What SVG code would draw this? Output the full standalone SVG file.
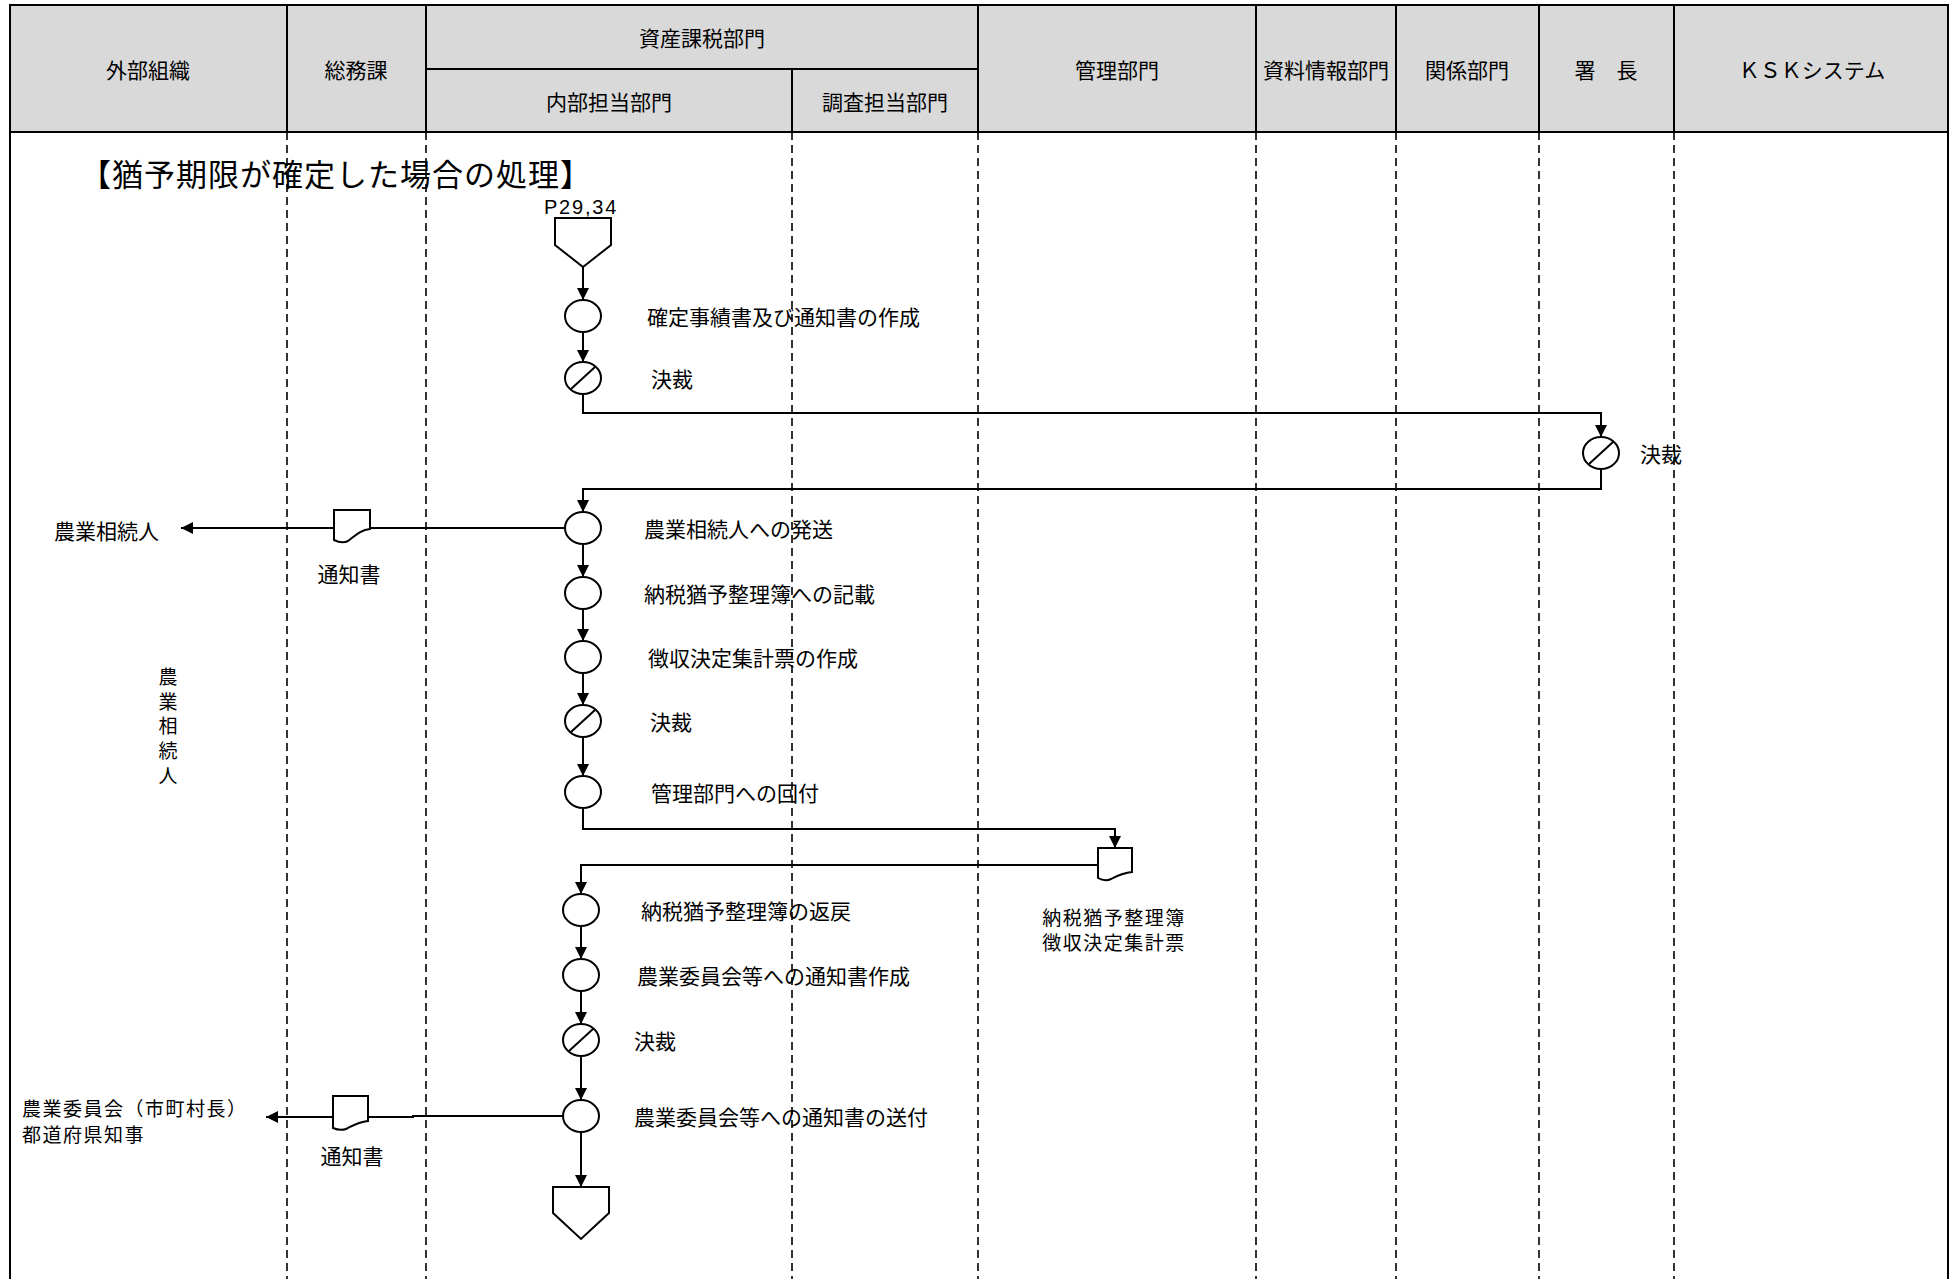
<svg xmlns="http://www.w3.org/2000/svg" width="1959" height="1279" viewBox="0 0 1959 1279">
<defs>
<style>
text{font-family:"Noto Sans CJK JP","Noto Sans CJK SC",sans-serif;fill:#000;dominant-baseline:central}
.h{font-size:21px;text-anchor:middle}
.t{font-size:21px}
.m{font-size:21px;text-anchor:middle}
.s{font-size:19px;letter-spacing:1.5px}
.sm{font-size:19px;letter-spacing:1.5px;text-anchor:middle}
.v{font-size:19px;text-anchor:middle}
.ttl{font-size:31px;letter-spacing:1px}
.p{font-family:"Liberation Sans",Arial,sans-serif;font-size:20px;letter-spacing:1.8px;text-anchor:middle;dominant-baseline:alphabetic}
.sol{stroke:#000;stroke-width:2;fill:none}
.dash{stroke:#000;stroke-width:1.6;stroke-dasharray:8 5;fill:none}
.shape{stroke:#000;stroke-width:2;fill:#fff}
.con{stroke:#000;stroke-width:2;fill:none}
.arr{marker-end:url(#ah)}
</style>
<marker id="ah" markerUnits="userSpaceOnUse" markerWidth="12" markerHeight="12" refX="12" refY="6" orient="auto">
<path d="M0,0 L12,6 L0,12 Z" fill="#000"/>
</marker>
</defs>
<rect x="0" y="0" width="1959" height="1279" fill="#fff"/>
<g id="header">
<rect x="10" y="5" width="1938" height="127" fill="#d9d9d9"/>
<path class="sol" d="M287,5V132M426,5V132M978,5V132M1256,5V132M1396,5V132M1539,5V132M1674,5V132M792,69V132M426,69H978"/>
<path class="sol" stroke-width="2.5" d="M10,132H1948"/>
<path class="sol" stroke-width="3.5" d="M9,5H1949"/>
<text class="h" x="148" y="69">外部組織</text>
<text class="h" x="356" y="69">総務課</text>
<text class="h" x="702" y="37">資産課税部門</text>
<text class="h" x="609" y="101">内部担当部門</text>
<text class="h" x="885" y="101">調査担当部門</text>
<text class="h" x="1117" y="69">管理部門</text>
<text class="h" x="1326" y="69">資料情報部門</text>
<text class="h" x="1467" y="69">関係部門</text>
<text class="h" x="1606" y="69">署　長</text>
<text class="h" x="1812" y="69">ＫＳＫシステム</text>
</g>
<g id="frame">
<path class="sol" stroke-width="2.5" d="M10,5V1279M1948,5V1279"/>
<path class="dash" d="M287,132V1279M426,132V1279M792,132V1279M978,132V1279M1256,132V1279M1396,132V1279M1539,132V1279M1674,132V1279"/>
</g>
<text id="title" class="ttl" x="80" y="172">【猶予期限が確定した場合の処理】</text>
<g id="connectors">
<path class="con arr" d="M583,267V300"/>
<path class="con arr" d="M583,332V362"/>
<path class="con arr" d="M583,394V413H1601V437"/>
<path class="con arr" d="M1601,469V489H583V512"/>
<path class="con" d="M565,528H370"/>
<path class="con arr" d="M334,528H181"/>
<path class="con arr" d="M583,544V577"/>
<path class="con arr" d="M583,609V641"/>
<path class="con arr" d="M583,673V705"/>
<path class="con arr" d="M583,737V776"/>
<path class="con arr" d="M583,808V829H1115V848"/>
<path class="con arr" d="M1098,865H581V894"/>
<path class="con arr" d="M581,926V959"/>
<path class="con arr" d="M581,991V1024"/>
<path class="con arr" d="M581,1056V1100"/>
<path class="con" d="M563,1116H413V1117H368"/>
<path class="con arr" d="M333,1117H266"/>
<path class="con arr" d="M581,1132V1187"/>
</g>
<g id="start">
<polygon class="shape" points="555,218 611,218 611,245 583,267 555,245"/>
<text class="p" x="581" y="214">P29,34</text>
</g>
<g id="n1">
<ellipse class="shape" cx="583" cy="316" rx="18" ry="16"/>
<text class="t" x="647" y="316">確定事績書及び通知書の作成</text>
</g>
<g id="n2">
<ellipse class="shape" cx="583" cy="378" rx="18" ry="16"/>
<path class="sol" d="M571,389L595,367"/>
<text class="t" x="651" y="378">決裁</text>
</g>
<g id="n3">
<ellipse class="shape" cx="1601" cy="453" rx="18" ry="16"/>
<path class="sol" d="M1589,464L1613,442"/>
<text class="t" x="1640" y="453">決裁</text>
</g>
<g id="n4">
<ellipse class="shape" cx="583" cy="528" rx="18" ry="16"/>
<text class="t" x="644" y="528">農業相続人への発送</text>
</g>
<g id="doc1">
<path class="shape" d="M334,510H370V529C360,530 355,536 348,541Q342,544 334,540Z"/>
<text class="m" x="349" y="573">通知書</text>
</g>
<g id="ext1">
<text class="t" x="54" y="530">農業相続人</text>
</g>
<g id="ext1v">
<text class="v" x="168" y="675">農</text>
<text class="v" x="168" y="700">業</text>
<text class="v" x="168" y="724">相</text>
<text class="v" x="168" y="749">続</text>
<text class="v" x="168" y="774">人</text>
</g>
<g id="n5">
<ellipse class="shape" cx="583" cy="593" rx="18" ry="16"/>
<text class="t" x="644" y="593">納税猶予整理簿への記載</text>
</g>
<g id="n6">
<ellipse class="shape" cx="583" cy="657" rx="18" ry="16"/>
<text class="t" x="648" y="657">徴収決定集計票の作成</text>
</g>
<g id="n7">
<ellipse class="shape" cx="583" cy="721" rx="18" ry="16"/>
<path class="sol" d="M571,732L595,710"/>
<text class="t" x="650" y="721">決裁</text>
</g>
<g id="n8">
<ellipse class="shape" cx="583" cy="792" rx="18" ry="16"/>
<text class="t" x="651" y="792">管理部門への回付</text>
</g>
<g id="doc2">
<path class="shape" d="M1098,848H1132V872C1122,873 1117,876 1111,879Q1105,882 1098,878Z"/>
<text class="sm" x="1114" y="916">納税猶予整理簿</text>
<text class="sm" x="1114" y="941">徴収決定集計票</text>
</g>
<g id="n9">
<ellipse class="shape" cx="581" cy="910" rx="18" ry="16"/>
<text class="t" x="641" y="910">納税猶予整理簿の返戻</text>
</g>
<g id="n10">
<ellipse class="shape" cx="581" cy="975" rx="18" ry="16"/>
<text class="t" x="637" y="975">農業委員会等への通知書作成</text>
</g>
<g id="n11">
<ellipse class="shape" cx="581" cy="1040" rx="18" ry="16"/>
<path class="sol" d="M569,1051L593,1029"/>
<text class="t" x="634" y="1040">決裁</text>
</g>
<g id="n12">
<ellipse class="shape" cx="581" cy="1116" rx="18" ry="16"/>
<text class="t" x="634" y="1116">農業委員会等への通知書の送付</text>
</g>
<g id="doc3">
<path class="shape" d="M333,1096H368V1121C358,1122 352,1126 346,1129Q340,1131 333,1128Z"/>
<text class="m" x="352" y="1155">通知書</text>
</g>
<g id="ext2">
<text class="s" x="22" y="1107">農業委員会（市町村長）</text>
<text class="s" x="22" y="1133">都道府県知事</text>
</g>
<g id="end">
<polygon class="shape" points="553,1187 609,1187 609,1213 581,1239 553,1213"/>
</g>
</svg>
